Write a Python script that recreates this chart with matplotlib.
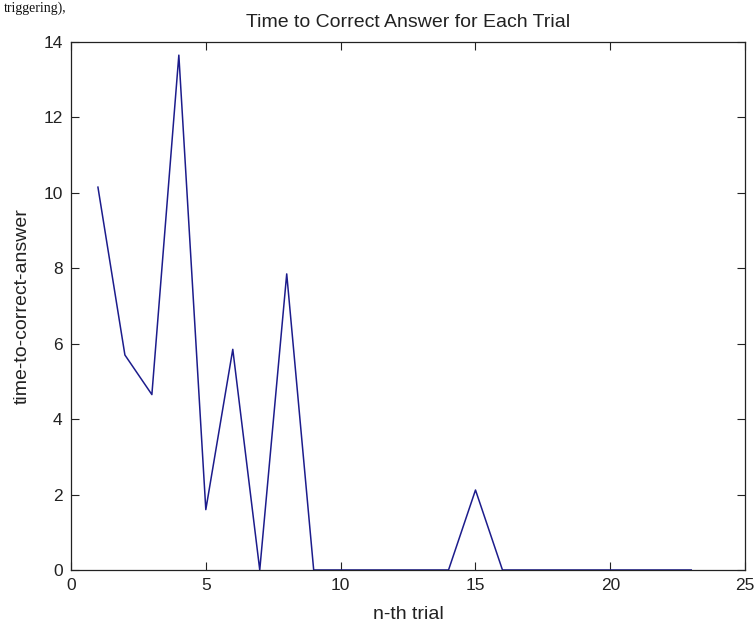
import matplotlib
matplotlib.use('Agg')
import matplotlib.pyplot as plt

# tid til riktig svar per forsok (lest av bildet)
forsok = list(range(1, 24))
tid = [10.15, 5.7, 4.65, 13.65, 1.6, 5.85, 0.0, 7.85, 0.0, 0.0, 0.0, 0.0,
       0.0, 0.0, 2.12, 0.0, 0.0, 0.0, 0.0, 0.0, 0.0, 0.0, 0.0]
xticks = [0, 5, 10, 15, 20, 25]
yticks = [0, 2, 4, 6, 8, 10, 12, 14]

plt.rcParams['font.family'] = ['Liberation Sans', 'DejaVu Sans']

fig = plt.figure(figsize=(7.55, 6.26), dpi=100)
ax = fig.add_axes([0.094, 0.0895, 0.893, 0.8435])

ax.plot(forsok, tid, color='#1c1c8c', linewidth=1.1)
ax.set_xlim(0, 25)
ax.set_ylim(0, 14)
ax.set_xticks(xticks)
ax.set_yticks(yticks)
ax.tick_params(direction='in', top=True, right=True, length=6, width=0.8,
               labelsize=12.5, colors='#222222', pad=6)
for s in ax.spines.values():
    s.set_linewidth(0.9)
    s.set_color('#222222')

ax.set_title('Time to Correct Answer for Each Trial', fontsize=14, pad=11, color='#222222')
ax.set_xlabel('n-th trial', fontsize=14, labelpad=9, color='#222222')
ax.set_ylabel('time-to-correct-answer', fontsize=14, labelpad=9, color='#222222')

# tekst fra dokumentet over figuren
fig.text(0.005, 0.998, 'triggering),', family='Liberation Serif', fontsize=10,
         ha='left', va='top', color='#111111')

fig.savefig('out.png', dpi=100)
